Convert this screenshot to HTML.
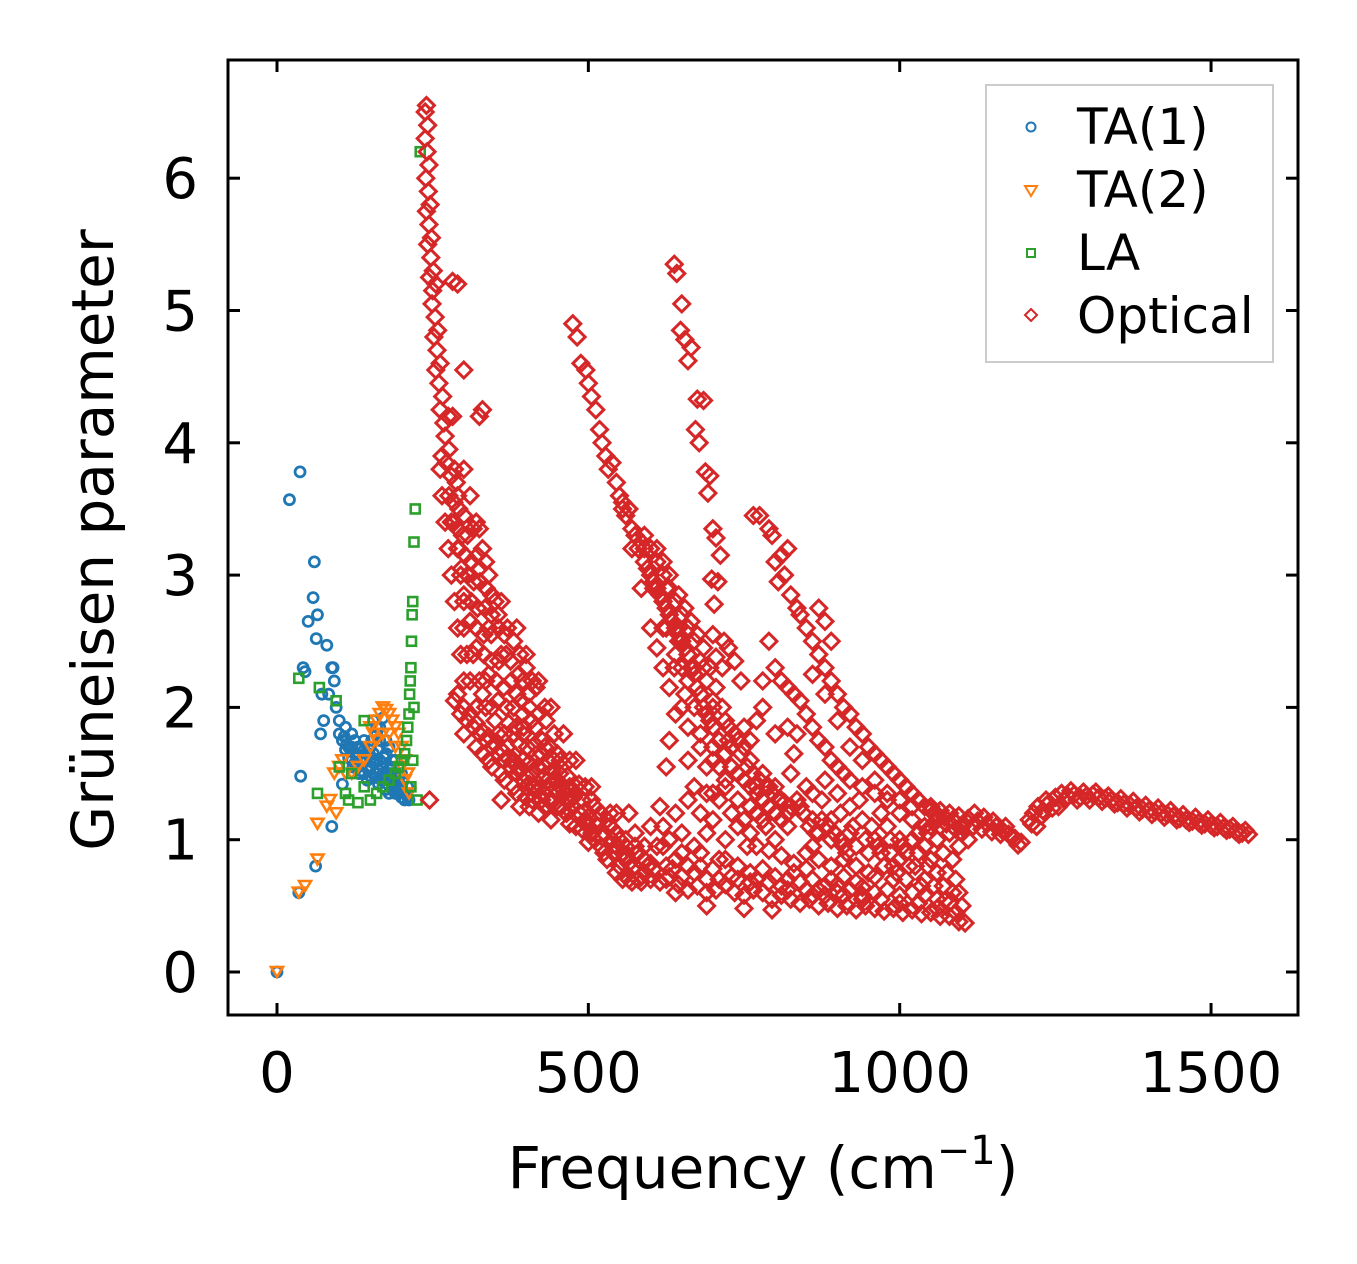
<!DOCTYPE html>
<html><head><meta charset="utf-8"><style>
body{margin:0;background:#fff}
svg{display:block}
text{font-family:"DejaVu Sans","Liberation Sans",sans-serif;fill:#000}
</style></head><body>
<svg id="chart" width="1357" height="1264" viewBox="0 0 1357 1264" xmlns="http://www.w3.org/2000/svg">
<rect width="1357" height="1264" fill="#fff"/>
<g id="marks"></g>
<rect x="228" y="60" width="1070" height="955" fill="none" stroke="#000" stroke-width="3"/>
<g id="ticks"></g>
<text x="763" y="1188" font-size="58" text-anchor="middle">Frequency (cm<tspan dy="-24" font-size="40">−1</tspan><tspan dy="24">)</tspan></text>
<text transform="translate(113,540) rotate(-90)" font-size="58" text-anchor="middle">Grüneisen parameter</text>
<g>
<rect x="986" y="85" width="287" height="277" fill="#fff" stroke="#ccc" stroke-width="2"/>
<circle cx="1031" cy="127" r="4.5" fill="none" stroke="#1f77b4" stroke-width="2"/>
<text x="1077" y="144" font-size="50">TA(1)</text>
<path d="M1025,186 L1037,186 L1031,196 Z" fill="none" stroke="#ff7f0e" stroke-width="2"/>
<text x="1077" y="207" font-size="50">TA(2)</text>
<rect x="1027" y="249" width="8" height="8" fill="none" stroke="#2ca02c" stroke-width="2"/>
<text x="1077" y="270" font-size="50">LA</text>
<path d="M1031,309 L1037,315 L1031,321 L1025,315 Z" fill="none" stroke="#d62728" stroke-width="2"/>
<text x="1077" y="333" font-size="50">Optical</text>
</g>
</svg>
<script>
const xTicks=[0,500,1000,1500];
const yTicks=[0,1,2,3,4,5,6];
const ta1=[[0,0],[35,0.6],[38,1.48],[20,3.57],[37,3.78],[42,2.3],[45,2.27],[50,2.65],[58,2.83],[60,3.1],[63,2.52],[65,2.7],[62,0.8],[70,1.8],[72,2.1],[75,1.9],[80,2.47],[83,2.1],[88,2.3],[90,2.3],[92,2.2],[88,1.1],[95,2.0],[100,1.9],[105,1.75],[110,1.85],[115,1.7],[120,1.8],[125,1.65],[130,1.7],[135,1.6],[140,1.75],[145,1.55],[150,1.7],[155,1.9],[160,1.8],[165,1.6],[170,1.55],[175,1.5],[180,1.45],[185,1.5],[190,1.42],[195,1.4],[200,1.38],[205,1.35],[210,1.32],[105,1.42],[170,1.92],[160,1.85],[150,1.6],[140,1.5],[130,1.55],[120,1.6],[180,1.7],[190,1.6],[200,1.5],[210,1.4],[175,1.75],[165,1.75],[155,1.65],[145,1.45],[185,1.38],[195,1.35],[205,1.3],[160,1.5],[170,1.4],[180,1.35],[112,1.72],[118,1.68],[128,1.62],[138,1.58],[148,1.52],[158,1.47],[168,1.45],[178,1.42],[188,1.4],[198,1.36],[208,1.34],[125,1.75],[135,1.7],[145,1.65],[155,1.58],[165,1.52],[175,1.46],[185,1.44],[195,1.45],[172,1.62],[182,1.55],[192,1.5],[202,1.44],[212,1.3],[162,1.68],[152,1.75],[142,1.62],[132,1.5],[122,1.55],[100,1.8],[108,1.78],[115,1.62],[125,1.58],[135,1.52],[150,1.48],[163,1.42],[175,1.38],[190,1.35],[200,1.32],[110,1.68],[120,1.7],[130,1.64],[140,1.68],[150,1.55],[160,1.6],[170,1.5],[180,1.5],[190,1.46],[200,1.4],[165,1.85],[175,1.65],[185,1.6]];
const ta2=[[0,0],[35,0.6],[45,0.65],[65,0.85],[65,1.12],[80,1.25],[85,1.3],[92,1.5],[100,1.55],[105,1.6],[95,1.2],[110,1.5],[120,1.5],[130,1.55],[140,1.6],[150,1.7],[155,1.8],[160,1.9],[165,1.95],[170,2.0],[175,1.98],[180,1.95],[185,1.9],[190,1.85],[195,1.8],[200,1.7],[205,1.6],[210,1.5],[150,1.85],[160,1.75],[170,1.8],[180,1.8],[190,1.7],[200,1.55],[205,1.45],[212,1.35]];
const la=[[35,2.22],[65,1.35],[68,2.15],[95,2.05],[110,1.35],[115,1.3],[130,1.28],[140,1.4],[150,1.3],[160,1.35],[170,1.4],[180,1.45],[190,1.5],[195,1.55],[200,1.6],[205,1.65],[208,1.75],[210,1.85],[212,1.95],[213,2.1],[214,2.2],[215,2.3],[216,2.5],[218,2.8],[220,3.25],[222,3.5],[225,1.3],[230,6.2],[140,1.9],[120,1.5],[100,1.55],[215,1.4],[218,1.6],[220,2.0],[217,2.7]];
const optical=[[238,6.5],[240,6.55],[242,6.4],[238,6.3],[241,6.2],[244,6.1],[239,6.0],[243,5.9],[246,5.8],[240,5.75],[244,5.65],[248,5.55],[242,5.5],[247,5.4],[251,5.3],[245,5.25],[250,5.15],[255,5.2],[249,5.05],[254,4.95],[258,4.85],[252,4.8],[257,4.7],[262,4.6],[255,4.55],[260,4.45],[266,4.35],[262,4.25],[268,4.15],[275,4.2],[270,4.05],[276,3.95],[282,4.2],[265,3.9],[272,3.85],[280,3.75],[288,3.7],[276,3.6],[284,3.55],[292,3.5],[300,3.45],[280,3.4],[290,3.35],[298,3.3],[306,3.3],[315,3.35],[325,3.35],[292,3.2],[302,3.15],[312,3.1],[322,3.15],[296,3.05],[306,3.0],[316,2.95],[326,2.95],[336,2.9],[300,2.85],[312,2.8],[322,2.75],[334,2.75],[344,2.7],[310,2.65],[320,2.6],[332,2.55],[344,2.55],[356,2.6],[320,2.45],[332,2.4],[344,2.35],[356,2.35],[368,2.4],[380,2.5],[340,2.25],[352,2.2],[364,2.15],[376,2.2],[388,2.25],[400,2.3],[355,2.05],[368,2.0],[380,2.0],[392,2.05],[404,2.1],[416,2.15],[372,1.88],[384,1.85],[396,1.85],[408,1.9],[420,1.95],[432,1.9],[390,1.72],[402,1.7],[414,1.72],[426,1.75],[438,1.7],[450,1.65],[405,1.58],[418,1.55],[430,1.55],[442,1.52],[454,1.5],[466,1.48],[420,1.42],[434,1.4],[448,1.38],[462,1.35],[476,1.32],[490,1.3],[440,1.28],[456,1.25],[470,1.22],[486,1.2],[500,1.17],[514,1.15],[470,1.12],[490,1.08],[506,1.05],[522,1.02],[538,1.0],[500,0.98],[520,0.95],[540,0.9],[560,0.88],[530,0.85],[550,0.8],[570,0.78],[590,0.75],[545,0.75],[565,0.7],[585,0.68],
[285,2.05],[290,2.1],[295,1.95],[300,2.0],[305,1.9],[310,1.95],[315,1.85],[320,1.88],[325,1.8],[330,1.82],[335,1.75],[340,1.78],[345,1.7],[350,1.72],[355,1.65],[360,1.68],[365,1.6],[370,1.62],[375,1.55],[380,1.58],[385,1.5],[390,1.52],[395,1.45],[400,1.48],[405,1.42],[410,1.4],[420,1.38],[430,1.35],[440,1.3],[450,1.25],[460,1.22],[300,1.8],[320,1.7],[340,1.6],[360,1.5],[380,1.4],[400,1.32],[420,1.2],[440,1.15],[360,1.3],[390,1.25],[410,1.5],[420,1.62],[430,1.7],[445,1.6],[470,1.4],[480,1.35],[490,1.3],[510,1.25],[530,1.15],
[475,4.9],[482,4.8],[488,4.6],[496,4.55],[500,4.45],[505,4.35],[512,4.25],[518,4.1],[522,4.0],[528,3.9],[532,3.8],[538,3.85],[545,3.7],[550,3.6],[555,3.55],[560,3.45],[565,3.5],[570,3.35],[575,3.3],[580,3.2],[585,3.25],[590,3.1],[595,3.05],[600,3.0],[605,2.95],[610,2.9],[615,2.85],[620,2.8],[625,2.75],[630,2.7],[635,2.65],[640,2.6],[645,2.55],[650,2.5],[655,2.45],[660,2.4],[665,2.3],[670,2.25],[675,2.15],[680,2.1],[685,2.0],[690,1.95],[695,1.9],[700,1.85],[710,1.75],[720,1.65],[730,1.55],[740,1.5],[750,1.45],[760,1.4],[770,1.35],[780,1.3],[790,1.25],[800,1.2],[810,1.15],[820,1.1],[590,3.3],[600,3.2],[610,3.1],[620,3.0],[630,2.9],[640,2.8],[650,2.7],[660,2.6],[670,2.5],[680,2.35],[690,2.2],[700,2.05],[720,1.9],[740,1.75],[760,1.6],[780,1.5],[800,1.4],[620,2.6],[640,2.4],[660,2.2],[680,1.8],[700,1.6],[720,1.45],[740,1.3],
[638,5.35],[642,5.28],[650,5.05],[648,4.85],[655,4.78],[665,4.72],[660,4.62],[675,4.33],[685,4.32],[672,4.1],[678,4.0],[688,3.78],[692,3.62],[695,3.75],[700,3.35],[705,3.28],[712,3.15],[698,2.97],[702,2.78],[708,2.95],[718,2.5],[725,2.45],[735,2.35],[745,2.2],[700,2.55],[705,2.38],[715,2.3],
[765,3.45],[775,3.45],[790,3.35],[795,3.3],[800,3.1],[810,3.15],[820,3.2],[805,2.95],[815,3.0],[825,2.85],[835,2.75],[840,2.7],[850,2.6],[860,2.5],[870,2.4],[880,2.3],[890,2.2],[900,2.1],[910,2.0],[920,1.95],[930,1.85],[940,1.8],[950,1.7],[960,1.65],[970,1.6],[980,1.55],[990,1.5],[1000,1.45],[1010,1.4],[1020,1.35],[1030,1.3],[1040,1.25],[1050,1.22],[790,2.5],[800,2.3],[810,2.2],[820,2.15],[830,2.1],[840,2.05],[850,1.95],[860,1.85],[870,1.75],[880,1.7],[890,1.6],[900,1.55],[910,1.5],[920,1.45],[940,1.4],[960,1.35],[980,1.3],[1000,1.2],[1020,1.15],[1040,1.1],[780,2.2],[800,1.8],[820,1.85],[770,1.9],[750,1.85],[760,1.75],[860,2.25],[880,2.1],[900,1.9],[920,1.7],[940,1.6],[960,1.45],[980,1.35],[1000,1.3],[1020,1.25],
[555,0.7],[570,0.68],[585,0.72],[600,0.7],[615,0.68],[630,0.72],[645,0.66],[660,0.62],[675,0.65],[690,0.6],[705,0.62],[720,0.66],[735,0.6],[750,0.58],[765,0.62],[780,0.6],[795,0.55],[810,0.58],[825,0.55],[840,0.52],[855,0.55],[870,0.5],[885,0.52],[900,0.48],[915,0.5],[930,0.47],[945,0.5],[960,0.48],[975,0.46],[990,0.48],[1005,0.45],[1020,0.47],[1035,0.44],[1050,0.45],[1065,0.42],[1080,0.42],[1095,0.38],[1105,0.37],[560,0.85],[580,0.9],[600,0.82],[620,0.95],[640,0.85],[660,0.8],[680,0.9],[700,0.78],[720,0.85],[740,0.8],[760,0.75],[780,0.78],[800,0.72],[820,0.7],[840,0.68],[860,0.7],[880,0.65],[900,0.66],[920,0.62],[940,0.64],[960,0.6],[980,0.62],[1000,0.58],[1020,0.6],[1040,0.58],[1060,0.55],[1080,0.52],[1070,0.65],[1060,0.75],[1050,0.85],[1070,0.9],[1060,1.0],[1040,0.95],[1030,1.05],[1010,0.9],[990,0.8],[1050,1.1],[1080,1.05],[1090,0.7],[1100,0.5],[1000,1.0],[970,0.9],[950,0.75],[930,0.8],[910,0.72],[890,0.8],[870,0.85],[850,0.78],[830,0.82],[810,0.88],[790,0.92],[770,0.95],
[575,1.05],[600,1.1],[615,1.25],[625,1.55],[630,1.75],[640,1.95],[638,2.3],[645,2.5],[655,2.1],[660,1.6],[670,1.4],[680,1.2],[690,1.05],[700,1.35],[710,1.55],[725,1.75],[740,1.1],[755,0.95],[770,1.2],[785,1.1],[800,1.0],[810,1.3],[825,1.5],[835,1.8],[850,1.4],[860,1.15],[875,1.3],[890,1.0],[905,1.2],[920,1.05],[935,1.3],[955,1.1],[970,1.2],[985,1.0],[1000,0.85],[565,1.2],[590,0.95],[610,0.95],[650,1.05],[720,1.0],[760,1.05],[860,0.95],[750,0.48],[795,0.47],[690,0.5],[640,0.6],[870,2.75],[880,2.65],[890,2.5],[780,2.0],[830,1.65],
[1050,1.25],[1065,1.22],[1080,1.2],[1095,1.18],[1110,1.16],[1125,1.14],[1140,1.12],[1155,1.1],[1165,1.07],[1175,1.04],[1185,1.01],[1195,0.98],[1060,1.15],[1075,1.12],[1090,1.08],[1100,1.05],[1110,1.0],[1208,1.15],[1215,1.2],[1222,1.25],[1230,1.22],[1240,1.28],[1250,1.32],[1260,1.35],[1270,1.33],[1280,1.34],[1290,1.32],[1300,1.33],[1310,1.34],[1320,1.32],[1330,1.31],[1340,1.3],[1350,1.28],[1360,1.27],[1370,1.26],[1380,1.24],[1390,1.23],[1400,1.22],[1410,1.21],[1420,1.2],[1430,1.19],[1440,1.18],[1450,1.16],[1460,1.15],[1470,1.14],[1480,1.13],[1490,1.12],[1500,1.11],[1510,1.1],[1520,1.09],[1530,1.08],[1540,1.06],[1550,1.05],[1560,1.04],[1220,1.1],[1235,1.3],[1255,1.25],
[245,1.3],[330,4.25],[325,4.2],[290,5.2],[282,5.22],[300,4.55],
[262,3.8],[285,3.8],[300,3.8],[265,3.6],[290,3.6],[310,3.6],[270,3.4],[285,3.4],[320,3.4],[275,3.2],[290,3.2],[330,3.2],[280,3.0],[295,3.0],[340,3.0],[285,2.8],[300,2.8],[350,2.8],[360,2.8],[290,2.6],[300,2.6],[340,2.6],[370,2.6],[385,2.6],[295,2.4],[305,2.4],[315,2.4],[360,2.4],[390,2.4],[400,2.4],[300,2.2],[310,2.2],[325,2.2],[335,2.2],[395,2.2],[410,2.2],[420,2.2],[320,2.0],[335,2.0],[345,2.0],[430,2.0],[440,2.0],[355,1.8],[365,1.8],[380,1.8],[395,1.8],[445,1.8],[460,1.8],[380,1.6],[395,1.6],[455,1.6],[470,1.6],[480,1.6],[400,1.4],[415,1.4],[480,1.4],[495,1.4],[505,1.4],[520,1.2],[535,1.2],[545,1.2],[330,2.1],[350,1.9],[370,1.7],[390,1.55],[410,1.3],[430,1.25],[450,1.45],[465,1.2],[480,1.1],[500,1.1],[510,1.0],[525,0.9],[545,1.05],[560,1.0],
[555,3.5],[565,3.5],[570,3.2],[590,3.2],[600,3.2],[585,2.9],[605,2.9],[625,2.9],[600,2.6],[625,2.6],[645,2.6],[660,2.6],[620,2.3],[650,2.3],[670,2.3],[685,2.3],[650,2.0],[670,2.0],[700,2.0],[680,1.7],[700,1.7],[730,1.7],[750,1.7],[720,1.4],[770,1.4],[790,1.4],[610,2.45],[630,2.15],[660,1.85],[690,1.55],[710,1.3],[730,1.2],[750,1.15],[690,1.35],[660,1.3],[640,1.2],[620,1.1],[700,1.15],[760,1.25],[780,1.15],[820,1.2],[840,1.25],[860,1.35],[880,1.45],[900,1.35],[920,1.25],[940,1.15],[960,1.0],[980,1.1],
[550,1.0],[560,0.95],[575,0.8],[590,0.85],[605,0.78],[625,0.8],[650,0.72],[670,0.75],[690,0.7],[710,0.7],[730,0.72],[760,0.68],[790,0.68],[820,0.62],[850,0.62],[880,0.58],[910,0.58],[940,0.55],[970,0.55],[1000,0.52],[1030,0.52],[1060,0.48],[1090,0.45],
[1010,0.7],[1025,0.8],[1040,0.7],[1055,0.65],[1075,0.75],[1085,0.85],[1095,0.95],[1030,0.9],[1045,1.05],[1065,1.1],[1085,1.15],[1100,1.1],[1095,0.6],[1020,1.0],[1005,0.95],
[870,0.62],[890,0.7],[910,0.85],[930,0.68],[950,0.9],[960,0.72],[975,0.8],[990,0.7],[860,0.58],[900,0.6],[940,0.58],[810,0.65],[830,0.75],[850,0.9],[870,1.05],[890,1.15],[910,0.95],[930,0.95],[770,0.7],[740,0.7],[710,0.85],[680,0.8],[650,0.9],[630,1.0],[670,0.95],
[1058,1.2],[1072,1.17],[1088,1.14],[1102,1.12],[1118,1.1],[1132,1.08],[1148,1.06],[1162,1.04],[1180,1.02],[1190,0.96],[1120,1.2],[1135,1.17],[1150,1.14],[1170,1.1],[1212,1.12],[1228,1.18],[1245,1.24],[1265,1.3],[1285,1.3],[1305,1.3],[1325,1.29],[1345,1.27],[1365,1.24],[1385,1.21],[1405,1.19],[1425,1.17],[1445,1.15],[1465,1.13],[1485,1.11],[1505,1.09],[1525,1.07],[1545,1.04],[1275,1.37],[1295,1.36],[1315,1.36],[1335,1.33],[1355,1.31],[1375,1.29],[1395,1.26],[1415,1.24],[1435,1.22],[1455,1.19],[1475,1.17],[1495,1.15],[1515,1.13],[1535,1.1],[1555,1.07],
[325,3.05],[335,3.1],[345,2.85],[355,2.7],[365,2.55],[375,2.35],[385,2.1],[395,1.95],[405,2.0],[415,1.85],[425,1.65],[435,1.6],[445,1.45],[455,1.4],[465,1.3],[475,1.25],[485,1.42],[495,1.22],[505,1.3],[515,1.1],[525,1.05],[535,1.1],[545,0.95],[555,0.9],[565,0.82],[575,0.95],[580,0.7],[595,0.8],[610,0.75],[625,0.7],[635,0.78],[330,1.65],[345,1.55],[365,1.45],[385,1.35],[405,1.25],[425,1.3],[435,1.45],[450,1.35],[470,1.3],[495,1.15],
[610,3.2],[620,3.1],[630,3.0],[645,2.85],[655,2.75],[665,2.65],[675,2.55],[685,2.45],[695,2.3],[705,2.15],[715,2.0],[725,1.85],[735,1.8],[745,1.65],[755,1.55],[765,1.5],[775,1.45],[785,1.4],[795,1.35],[805,1.3],[815,1.28],[825,1.25],[835,1.3],[845,1.2],[855,1.1],[865,1.05],[875,1.15],[885,1.1],[895,1.05],[905,1.0],[915,0.9],[925,1.1],[945,1.0],[965,0.95],[985,0.9],[995,0.75],[1015,0.8],[1035,0.65],[1045,0.8],[1075,0.55],[1085,0.6]];

const NS='http://www.w3.org/2000/svg';
function xs(v){return 277+v*0.6227;}
function ys(v){return 972-v*132.3;}
const marks=document.getElementById('marks');
const ticks=document.getElementById('ticks');
function mk(tag,attrs,parent){const e=document.createElementNS(NS,tag);for(const k in attrs)e.setAttribute(k,attrs[k]);parent.appendChild(e);return e;}

xTicks.forEach(t=>{
  const x=xs(t);
  const a=mk('line',{x1:x,x2:x,y1:1015,y2:1003,stroke:'#000','stroke-width':3},ticks);
  
  
  const b=mk('line',{x1:x,x2:x,y1:60,y2:72,stroke:'#000','stroke-width':3},ticks);
  
  
  const l=mk('text',{x:x,y:1092,'font-size':56,'text-anchor':'middle'},ticks);
  l.textContent=t;
  
  
});
yTicks.forEach(t=>{
  const y=ys(t);
  const a=mk('line',{x1:228,x2:240,y1:y,y2:y,stroke:'#000','stroke-width':3},ticks);
  
  
  const b=mk('line',{x1:1286,x2:1298,y1:y,y2:y,stroke:'#000','stroke-width':3},ticks);
  
  
  const l=mk('text',{x:198,y:y+20,'font-size':56,'text-anchor':'end'},ticks);
  l.textContent=t;
  
  
});

ta1.forEach(p=>{
  const c=mk('circle',{cx:xs(p[0]),cy:ys(p[1]),r:5,fill:'none',stroke:'#1f77b4','stroke-width':2.8},marks);
  
  
});
ta2.forEach(p=>{
  const x=xs(p[0]),y=ys(p[1]);
  const c=mk('path',{d:`M${x-6},${y-5} L${x+6},${y-5} L${x},${y+5} Z`,fill:'none',stroke:'#ff7f0e','stroke-width':2.6},marks);
  
  
});
la.forEach(p=>{
  const c=mk('rect',{x:xs(p[0])-4.5,y:ys(p[1])-4.5,width:9,height:9,fill:'none',stroke:'#2ca02c','stroke-width':2.6},marks);
  
  
});
optical.forEach(p=>{
  const x=xs(p[0]),y=ys(p[1]);
  const c=mk('path',{d:`M${x},${y-8} L${x+8},${y} L${x},${y+8} L${x-8},${y} Z`,fill:'none',stroke:'#d62728','stroke-width':3},marks);
  
  
});
</script>
</body></html>
